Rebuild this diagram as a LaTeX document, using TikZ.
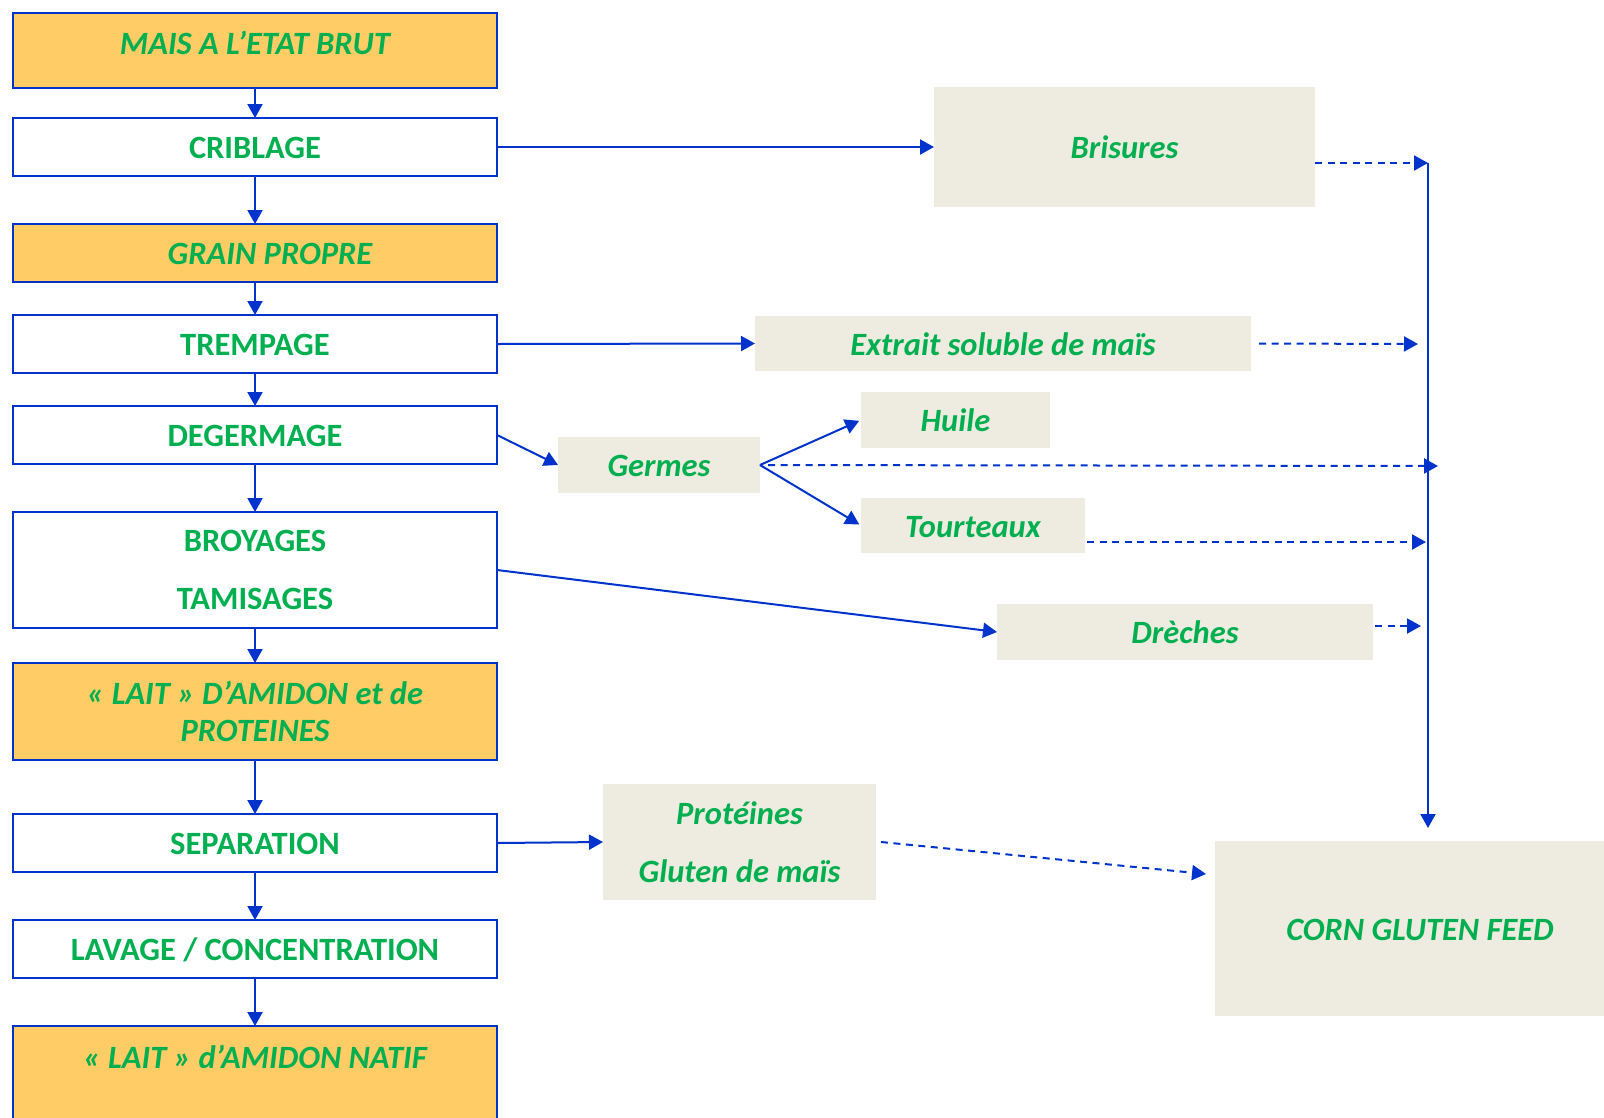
\documentclass[tikz,border=0pt]{standalone}
\usepackage{fontspec}
\setmainfont{Carlito}
\usetikzlibrary{arrows.meta}
\definecolor{bl}{HTML}{0033CC}
\definecolor{gr}{HTML}{00B050}
\definecolor{org}{HTML}{FFCC66}
\definecolor{bei}{HTML}{EEEBE0}
\begin{document}
\begin{tikzpicture}[x=1pt,y=-1pt,
 base/.style={text=gr, inner sep=0pt, outer sep=0pt, align=center},
 proc/.style={base, draw=bl, line width=2pt, fill=white, font=\fontsize{32.5}{37}\selectfont\bfseries},
 prod/.style={base, draw=bl, line width=2pt, fill=org, font=\fontsize{32.5}{37}\selectfont\bfseries\itshape},
 side/.style={base, fill=bei, font=\fontsize{32.5}{37}\selectfont\bfseries\itshape},
 one/.style={text height=23.5pt, text depth=0pt},
 arr/.style={draw=bl, line width=2pt, -{Triangle[length=14pt,width=15pt]}},
 darr/.style={arr, dash pattern=on 7pt off 5.5pt},
]
\clip (0,0) rectangle (1604,1117);
\fill[white] (0,0) rectangle (1604,1117);
% left column
\node[prod, minimum width=484pt, minimum height=75pt, text height=23pt, text depth=15pt] (mais) at (255,50.5) {MAIS A L’ETAT BRUT};
\node[proc, one, minimum width=484pt, minimum height=58pt] (crib) at (255,147) {CRIBLAGE};
\node[prod, one, minimum width=484pt, minimum height=58pt] (grain) at (255,253) {\hspace*{30pt}GRAIN PROPRE};
\node[proc, one, minimum width=484pt, minimum height=58pt] (trem) at (255,344) {TREMPAGE};
\node[proc, one, minimum width=484pt, minimum height=58pt] (deg) at (255,435) {DEGERMAGE};
\node[proc, minimum width=484pt, minimum height=116pt] (broy) at (255,570) {BROYAGES\\[21pt]TAMISAGES};
\node[prod, minimum width=484pt, minimum height=97pt] (lait) at (255,711.5) {« LAIT » D’AMIDON et de\\PROTEINES};
\node[proc, one, minimum width=484pt, minimum height=58pt] (sep) at (255,843) {SEPARATION};
\node[proc, one, minimum width=484pt, minimum height=58pt] (lav) at (255,949) {LAVAGE / CONCENTRATION};
\node[prod, minimum width=484pt, minimum height=120pt, text height=23pt, text depth=58pt] (natif) at (255,1086) {« LAIT » d’AMIDON NATIF};
% right side products
\node[side, one, minimum width=381pt, minimum height=120pt] (bris) at (1124.5,147) {Brisures};
\node[side, one, minimum width=496pt, minimum height=55pt] (extr) at (1003,343.5) {Extrait soluble de maïs};
\node[side, one, minimum width=202pt, minimum height=56pt] (germ) at (659,465) {Germes};
\node[side, one, minimum width=189pt, minimum height=56pt] (huile) at (955.5,420) {Huile};
\node[side, one, minimum width=224pt, minimum height=55pt] (tourt) at (973,525.5) {Tourteaux};
\node[side, one, minimum width=376pt, minimum height=56pt] (drech) at (1185,632) {Drèches};
\node[side, minimum width=273pt, minimum height=116pt] (prot) at (739.5,842) {Protéines\\[21pt]Gluten de maïs};
\node[side, one, minimum width=410pt, minimum height=175pt] (corn) at (1420,928.5) {CORN GLUTEN FEED};
% coordinates
\coordinate (vtop) at (1428,163);
\coordinate (vbot) at (1428,828);
\coordinate (eEnd) at (1418,344);
\coordinate (gEnd) at (1438,466);
\coordinate (tEnd) at (1426,542);
\coordinate (dEnd) at (1421,626);
\coordinate (cEnd) at (1206,874);
% main column arrows
\draw[arr] (mais) -- (crib);
\draw[arr] (crib) -- (grain);
\draw[arr] (grain) -- (trem);
\draw[arr] (trem) -- (deg);
\draw[arr] (deg) -- (broy);
\draw[arr] (broy) -- (lait);
\draw[arr] (lait) -- (sep);
\draw[arr] (sep) -- (lav);
\draw[arr] (lav) -- (natif);
% side arrows
\draw[arr] (crib.east) -- (bris.west);
\draw[arr] (trem.east) -- (extr.west);
\draw[arr] (deg.east) -- (germ.west);
\draw[arr, shorten >=2pt] (germ.east) -- (huile.west);
\draw[arr, shorten >=2pt] (germ.east) -- (tourt.west);
\draw[arr] (broy.east) -- (drech.west);
\draw[arr] (sep.east) -- (prot.west);
% collector
\draw[arr] (vtop) -- (vbot);
\draw[darr] (bris.east |- vtop) -- (vtop);
\draw[darr] ([xshift=8pt]extr.east) -- (eEnd);
\draw[darr] ([xshift=8pt]germ.east) -- (gEnd);
\draw[darr] ([xshift=2pt,yshift=-16.5pt]tourt.east) -- (tEnd);
\draw[darr] ([xshift=2pt,yshift=6pt]drech.east) -- (dEnd);
\draw[darr] ([xshift=5pt]prot.east) -- (cEnd);
\end{tikzpicture}
\end{document}
